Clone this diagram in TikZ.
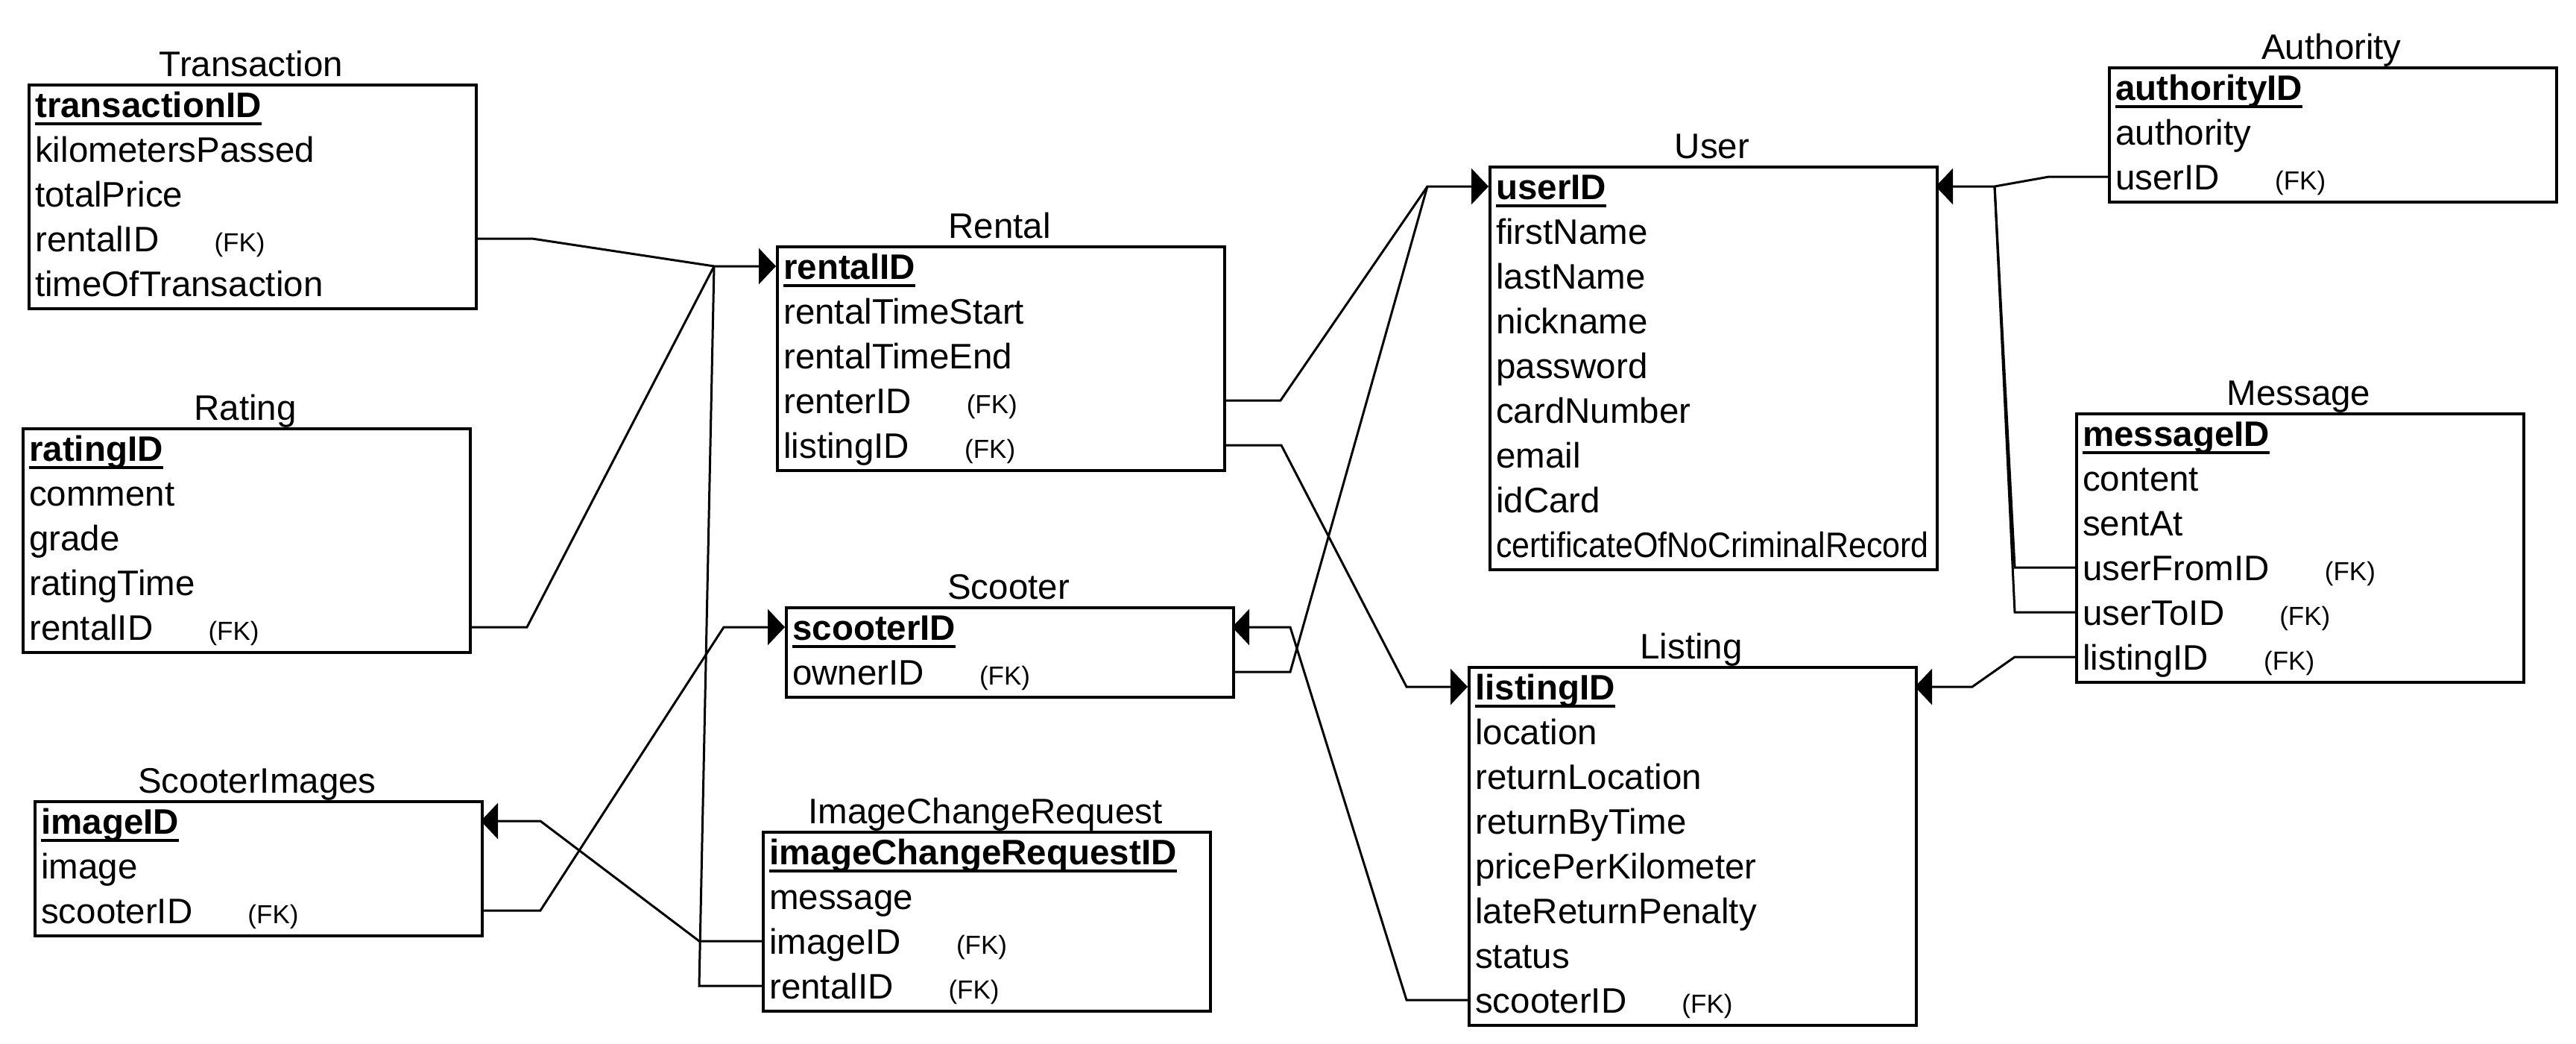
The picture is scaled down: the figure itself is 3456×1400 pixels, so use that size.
\documentclass[tikz,border=0pt]{standalone}
\usepackage{fontspec}
\setmainfont{Liberation Sans}
\usepackage{graphicx}
\usetikzlibrary{arrows.meta}
\newcommand\rowfont{\fontsize{47.5}{52}\selectfont}
\newcommand\fkfont{\fontsize{35}{40}\selectfont}
\newsavebox\pkbox
\newcommand\pkey[1]{\sbox\pkbox{\bfseries #1}\rlap{\rule[-11pt]{\wd\pkbox}{4pt}}\usebox\pkbox}
\newcommand\fkey[1]{#1\hspace{74pt}{\fkfont (FK)}}
\tikzset{
  entbox/.style={draw, line width=4pt, minimum width=600pt, anchor=north west, inner sep=0pt},
  rowtext/.style={anchor=base west, inner sep=0pt, font=\rowfont},
  titletext/.style={anchor=base, inner sep=0pt, font=\rowfont},
  conn/.style={line width=3pt, line join=miter},
  fkarrow/.style={conn, -{Triangle[length=23pt,width=48pt]}}
}
% entity box: name, title, left, top, rows
\newcommand\ent[5]{%
  \node[entbox, minimum height={#5*60pt}] (#1) at (#3,#4) {};
  \node[titletext] (#1-title) at ({#3+300},{#4-10}) {#2};
}
% row: entity, index, left, top, text
\newcommand\erow[5]{%
  \node[rowtext] (#1-#2) at ({#3+10},{#4+45+60*#2}) {#5};
  \coordinate (#1-#2-w) at (#3,{#4+28+60*#2});
  \coordinate (#1-#2-e) at ({#3+600},{#4+28+60*#2});
}
\begin{document}
\begin{tikzpicture}[x=1pt,y=-1pt]
\useasboundingbox (0,0) rectangle (3456,1400);

% Transaction
\ent{Trans}{Transaction}{37}{112}{5}
\erow{Trans}{0}{37}{112}{\pkey{transactionID}}
\erow{Trans}{1}{37}{112}{kilometersPassed}
\erow{Trans}{2}{37}{112}{totalPrice}
\erow{Trans}{3}{37}{112}{\fkey{rentalID}}
\erow{Trans}{4}{37}{112}{timeOfTransaction}

% Rating
\ent{Rating}{Rating}{29}{573}{5}
\erow{Rating}{0}{29}{573}{\pkey{ratingID}}
\erow{Rating}{1}{29}{573}{comment}
\erow{Rating}{2}{29}{573}{grade}
\erow{Rating}{3}{29}{573}{ratingTime}
\erow{Rating}{4}{29}{573}{\fkey{rentalID}}

% Rental
\ent{Rental}{Rental}{1041}{329}{5}
\erow{Rental}{0}{1041}{329}{\pkey{rentalID}}
\erow{Rental}{1}{1041}{329}{rentalTimeStart}
\erow{Rental}{2}{1041}{329}{rentalTimeEnd}
\erow{Rental}{3}{1041}{329}{\fkey{renterID}}
\erow{Rental}{4}{1041}{329}{\fkey{listingID}}

% Scooter
\ent{Scooter}{Scooter}{1053}{813}{2}
\erow{Scooter}{0}{1053}{813}{\pkey{scooterID}}
\erow{Scooter}{1}{1053}{813}{\fkey{ownerID}}

% ScooterImages
\ent{SImg}{ScooterImages}{45}{1073}{3}
\erow{SImg}{0}{45}{1073}{\pkey{imageID}}
\erow{SImg}{1}{45}{1073}{image}
\erow{SImg}{2}{45}{1073}{\fkey{scooterID}}

% ImageChangeRequest
\ent{ICR}{ImageChangeRequest}{1022}{1114}{4}
\erow{ICR}{0}{1022}{1114}{\pkey{imageChangeRequestID}}
\erow{ICR}{1}{1022}{1114}{message}
\erow{ICR}{2}{1022}{1114}{\fkey{imageID}}
\erow{ICR}{3}{1022}{1114}{\fkey{rentalID}}

% User
\ent{User}{User}{1997}{222}{9}
\erow{User}{0}{1997}{222}{\pkey{userID}}
\erow{User}{1}{1997}{222}{firstName}
\erow{User}{2}{1997}{222}{lastName}
\erow{User}{3}{1997}{222}{nickname}
\erow{User}{4}{1997}{222}{password}
\erow{User}{5}{1997}{222}{cardNumber}
\erow{User}{6}{1997}{222}{email}
\erow{User}{7}{1997}{222}{idCard}
\erow{User}{8}{1997}{222}{\scalebox{0.905}[1]{certificateOfNoCriminalRecord}}

% Listing
\ent{Listing}{Listing}{1969}{893}{8}
\erow{Listing}{0}{1969}{893}{\pkey{listingID}}
\erow{Listing}{1}{1969}{893}{location}
\erow{Listing}{2}{1969}{893}{returnLocation}
\erow{Listing}{3}{1969}{893}{returnByTime}
\erow{Listing}{4}{1969}{893}{pricePerKilometer}
\erow{Listing}{5}{1969}{893}{lateReturnPenalty}
\erow{Listing}{6}{1969}{893}{status}
\erow{Listing}{7}{1969}{893}{\fkey{scooterID}}

% Authority
\ent{Auth}{Authority}{2828}{89}{3}
\erow{Auth}{0}{2828}{89}{\pkey{authorityID}}
\erow{Auth}{1}{2828}{89}{authority}
\erow{Auth}{2}{2828}{89}{\fkey{userID}}

% Message
\ent{Msg}{Message}{2784}{553}{6}
\erow{Msg}{0}{2784}{553}{\pkey{messageID}}
\erow{Msg}{1}{2784}{553}{content}
\erow{Msg}{2}{2784}{553}{sentAt}
\erow{Msg}{3}{2784}{553}{\fkey{userFromID}}
\erow{Msg}{4}{2784}{553}{\fkey{userToID}}
\erow{Msg}{5}{2784}{553}{\fkey{listingID}}

% junctions
\coordinate (jR) at (958,357);
\coordinate (jU) at (1915,250);
\coordinate (jU2) at (2676,250);

% connectors
\draw[fkarrow] (Trans-3-e) -- (714,320) -- (jR) -- (Rental-0-w);
\draw[conn] (Rating-4-e) -- (707,841) -- (jR);
\draw[conn] (ICR-3-w) -- (938,1322) -- (jR);
\draw[fkarrow] (ICR-2-w) -- (938,1262) -- (725,1101) -- (SImg-0-e);
\draw[fkarrow] (SImg-2-e) -- (725,1221) -- (971,841) -- (Scooter-0-w);
\draw[fkarrow] (Rental-3-e) -- (1718,537) -- (jU) -- (User-0-w);
\draw[conn] (Scooter-1-e) -- (1731,901) -- (jU);
\draw[fkarrow] (Rental-4-e) -- (1719,597) -- (1887,921) -- (Listing-0-w);
\draw[fkarrow] (Listing-7-w) -- (1887,1341) -- (1731,841) -- (Scooter-0-e);
\draw[fkarrow] (Auth-2-w) -- (2749,237) -- (jU2) -- (User-0-e);
\draw[conn] (Msg-3-w) -- (2703,761) -- (jU2);
\draw[conn] (Msg-4-w) -- (2703,821) -- (jU2);
\draw[fkarrow] (Msg-5-w) -- (2703,881) -- (2646,921) -- (Listing-0-e);
\end{tikzpicture}
\end{document}
